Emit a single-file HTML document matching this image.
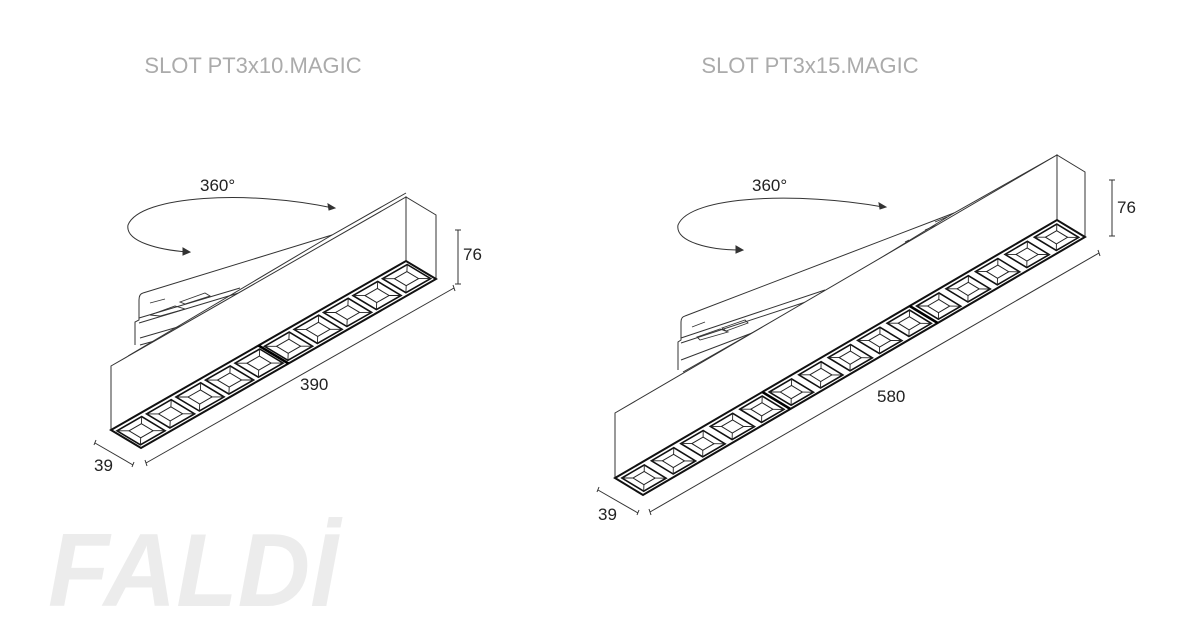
<!DOCTYPE html>
<html><head><meta charset="utf-8">
<style>
html,body{margin:0;padding:0;background:#fff;}
svg{display:block;}
text{font-family:"Liberation Sans",sans-serif;}
</style></head>
<body>
<svg id="s" width="1200" height="638" viewBox="0 0 1200 638" xmlns="http://www.w3.org/2000/svg">
<rect width="1200" height="638" fill="#fff"/>
<!-- logo -->
<text x="48" y="606" font-size="104" font-weight="bold" font-style="italic" fill="#ececec" textLength="290" lengthAdjust="spacingAndGlyphs">FALDİ</text>
<!-- titles -->
<text x="253" y="73" font-size="22" fill="#ababab" text-anchor="middle">SLOT PT3x10.MAGIC</text>
<text x="810" y="73" font-size="22" fill="#ababab" text-anchor="middle">SLOT PT3x15.MAGIC</text>

<g id="left" fill="none" stroke="#333" stroke-width="1">
  <path d="M143,293 L332,235 L406,193"/>
  <path d="M128,356 L332,235"/>
  <path d="M143,293 Q139,294 139,300 L139,320 L135,322 L135,345"/>
  <path d="M139,318 L240,288 M139,323 L242,292 M140,338 L195,322 M140,345 L180,334"/>
  <path d="M150,303 L165,299 M150,315 L175,306 L185,309 L160,316 Z M180,302 L205,293 L210,296 L185,304 Z" stroke-width="0.9"/>
  <path d="M333,208 C250,190 140,195 128,225 C125,242 160,250 188,252"/>
  <path d="M335,208 l-7,-4 l1,6 z M190,252 l-7,-4 l0,7 z" fill="#333"/>
</g>
<g id="right" fill="none" stroke="#333" stroke-width="1">
  <path d="M685,316 L954,213 L1057,155"/>
  <path d="M683,372 L840,283 L954,213"/>
  <path d="M685,316 Q681,317 681,322 L681,340 L678,342 L678,370"/>
  <path d="M681,338 L825,290 M681,343 L830,294 M681,360 L760,330"/>
  <path d="M692,327 L705,322 M697,337 L720,329 L728,332 L700,340 Z M722,328 L745,320 L748,323 L726,331 Z M905,242 l4,-2 M925,230 l12,-5 M935,222 l12,-5" stroke-width="0.9"/>
  <path d="M883,207 C800,192 690,195 678,225 C675,242 710,250 740,250"/>
  <path d="M886,207 l-7,-4 l1,6 z M743,250 l-7,-4 l0,7 z" fill="#333"/>
</g>

<g font-size="17" fill="#222">
  <text x="200" y="191">360°</text>
  <text x="752" y="191">360°</text>
  <text x="463" y="260">76</text>
  <text x="1117" y="213">76</text>
  <text x="300" y="390">390</text>
  <text x="877" y="402">580</text>
  <text x="94" y="471">39</text>
  <text x="598" y="520">39</text>
</g>
<g stroke="#333" stroke-width="1" fill="none">
  <path d="M458,230 L458,284 M455,230 h6 M455,284 h6"/>
  <path d="M1112,180 L1112,236 M1109,180 h6 M1109,236 h6"/>
  <path d="M146,463 L454,288 M145,460 l2,6 M453,285 l2,6"/>
  <path d="M650,512 L1099,253 M649,509 l2,6 M1098,250 l2,6"/>
  <path d="M95,443 L133,465 M96,440 l-2,5 M134,462 l-2,5"/>
  <path d="M598,490 L638,513 M599,487 l-2,5 M639,510 l-2,5"/>
</g>
<g id="fx"></g>
</svg>
<script>
(function(){
var g=document.getElementById('fx');var out='';
function P(a){return a.map(function(p){return p[0].toFixed(1)+','+p[1].toFixed(1)}).join(' ');}
function fixture(O,L,W,H,n,mod){
  function pt(t,u,h){return [O[0]+L[0]*t+W[0]*u, O[1]+L[1]*t+W[1]*u-(h||0)];}
  out+='<polygon points="'+P([pt(0,0,0),pt(0,0,H),pt(1,0,H),pt(1,0,0)])+'" fill="#fff" stroke="#333" stroke-width="1"/>';
  out+='<polygon points="'+P([pt(1,0,0),pt(1,0,H),pt(1,1,H),pt(1,1,0)])+'" fill="#fff" stroke="#333" stroke-width="1"/>';
  out+='<polygon points="'+P([pt(0,0),pt(1,0),pt(1,1),pt(0,1)])+'" fill="#fff" stroke="#111" stroke-width="2"/>';
  var m=0.008;
  for(var i=0;i<n;i++){
    var t0=i/n+m,t1=(i+1)/n-m,u0=0.12,u1=0.9;
    var a=pt(t0,u0),b=pt(t1,u0),c=pt(t1,u1),d=pt(t0,u1);
    var dt=(t1-t0)*0.25,du=(u1-u0)*0.25;
    var a2=pt(t0+dt,u0+du),b2=pt(t1-dt,u0+du),c2=pt(t1-dt,u1-du),d2=pt(t0+dt,u1-du);
    out+='<polygon points="'+P([a,b,c,d])+'" fill="#fff" stroke="#111" stroke-width="1.6"/>';
    out+='<polygon points="'+P([a2,b2,c2,d2])+'" fill="#fff" stroke="#222" stroke-width="1"/>';
    out+='<path d="M'+P([a,a2])+' M'+P([b,b2])+' M'+P([c,c2])+' M'+P([d,d2])+'" stroke="#222" stroke-width="0.9" fill="none"/>';
    if(i>0 && i%mod==0){var e=pt(i/n,0),f=pt(i/n,1);out+='<line x1="'+e[0]+'" y1="'+e[1]+'" x2="'+f[0]+'" y2="'+f[1]+'" stroke="#000" stroke-width="2.5"/>';}
  }
}
fixture([111,430],[295,-169],[30,18],64,10,5);
fixture([615,478],[442,-258],[28,17],65,15,5);
g.innerHTML=out;
})();
</script>
</body></html>
